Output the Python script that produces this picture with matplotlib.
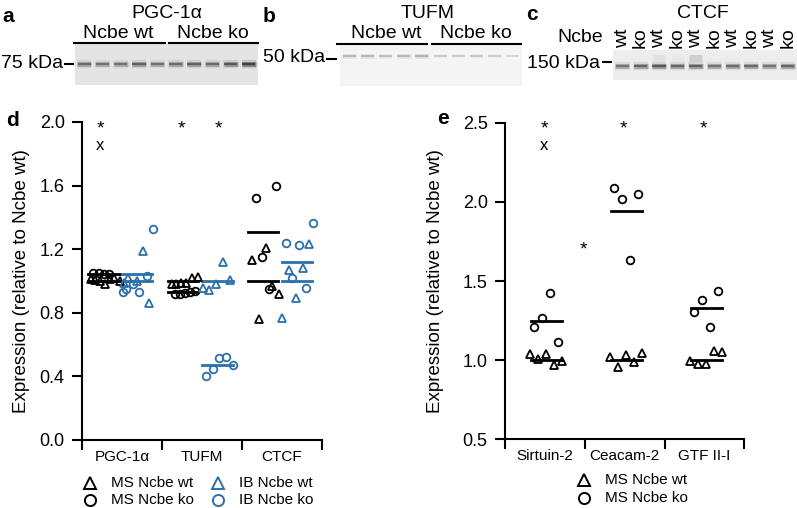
import numpy as np
import matplotlib
matplotlib.use('Agg')
import matplotlib.pyplot as plt
from matplotlib.lines import Line2D

plt.rcParams['font.family'] = ['Liberation Sans', 'DejaVu Sans']

# ---------------- datos ----------------
# blots (niveles de gris de la banda por carril, 1 = sin banda)
blot_a = [0.42, 0.45, 0.45, 0.38, 0.45, 0.42, 0.38, 0.42, 0.35, 0.25]
blot_b = [0.72, 0.72, 0.75, 0.72, 0.70, 0.80, 0.80, 0.78, 0.80, 0.84]
blot_c = [0.45, 0.40, 0.35, 0.40, 0.38, 0.45, 0.42, 0.42, 0.45, 0.40]
blot_c_sup = [1, 1, 0.85, 0.90, 0.72, 1, 1, 1, 1, 1]
carriles_c = ['wt', 'ko', 'wt', 'ko', 'wt', 'ko', 'wt', 'ko', 'wt', 'ko']

# panel d
cats_d = ['PGC-1α', 'TUFM', 'CTCF']
ms_wt_x = [0.11, 0.16, 0.22, 0.29, 0.35, 0.40, 0.47,
           1.12, 1.175, 1.235, 1.30, 1.37, 1.445,
           2.12, 2.30, 2.38, 2.46, 2.21]
ms_wt_y = [1.014, 1.007, 0.997, 0.983, 1.011, 1.017, 0.997,
           0.983, 0.983, 0.986, 0.986, 1.017, 1.028,
           1.134, 1.206, 0.968, 0.917, 0.763]
ms_ko_x = [0.14, 0.21, 0.275, 0.34,
           1.16, 1.225, 1.29, 1.35, 1.41,
           2.17, 2.42, 2.25, 2.34]
ms_ko_y = [1.048, 1.048, 1.042, 1.042,
           0.920, 0.920, 0.924, 0.930, 0.939,
           1.523, 1.599, 1.153, 0.951]
ib_wt_x = [0.525, 0.58, 0.685, 0.765, 0.84,
           1.51, 1.59, 1.675, 1.76, 1.85,
           2.84, 2.59, 2.76, 2.67, 2.50]
ib_wt_y = [0.990, 1.022, 1.003, 1.190, 0.862,
           0.955, 0.945, 0.980, 1.117, 1.007,
           1.235, 1.067, 1.082, 0.894, 0.767]
ib_ko_x = [0.89, 0.81, 0.635, 0.55, 0.51, 0.715,
           1.55, 1.635, 1.715, 1.80, 1.885,
           2.885, 2.545, 2.71, 2.63, 2.80]
ib_ko_y = [1.328, 1.034, 0.978, 0.947, 0.930, 0.930,
           0.400, 0.444, 0.514, 0.519, 0.469,
           1.362, 1.242, 1.229, 1.020, 0.955]
# medias (valor, inicio, fin)
medias_ms_d = [(1.00, 0.075, 0.475), (1.042, 0.075, 0.475),
               (0.997, 1.075, 1.45), (0.93, 1.075, 1.45),
               (1.00, 2.08, 2.455), (1.31, 2.08, 2.455)]
medias_ib_d = [(1.00, 0.50, 0.87), (1.042, 0.50, 0.87),
               (1.00, 1.495, 1.885), (0.47, 1.495, 1.885),
               (1.00, 2.495, 2.88), (1.12, 2.495, 2.88)]
signos_d = [(0.225, 2.0, '*'), (0.225, 1.87, 'x'), (1.24, 2.0, '*'), (1.70, 2.0, '*')]

# panel e
cats_e = ['Sirtuin-2', 'Ceacam-2', 'GTF II-I']
e_wt_x = [0.317, 0.417, 0.518, 0.618, 0.718,
          1.32, 1.42, 1.52, 1.62, 1.72,
          2.318, 2.422, 2.523, 2.623, 2.723]
e_wt_y = [1.041, 1.005, 1.041, 0.969, 0.993,
          1.020, 0.955, 1.034, 0.986, 1.047,
          0.995, 0.976, 0.976, 1.058, 1.050]
e_ko_x = [0.568, 0.468, 0.368, 0.668,
          1.366, 1.47, 1.67, 1.57,
          2.673, 2.473, 2.368, 2.573]
e_ko_y = [1.424, 1.264, 1.209, 1.117,
          2.089, 2.016, 2.050, 1.631,
          1.439, 1.382, 1.306, 1.211]
medias_e = [(1.00, 0.326, 0.711), (1.25, 0.326, 0.711),
            (1.00, 1.328, 1.713), (1.94, 1.328, 1.713),
            (1.00, 2.327, 2.716), (1.33, 2.327, 2.716)]
signos_e = [(0.49, 2.5, '*'), (0.49, 2.37, 'x'), (0.98, 1.74, '*'), (1.49, 2.5, '*'), (2.49, 2.5, '*')]

azul = '#2c70a9'
W, H = 797, 508


def caja(x0, y0, x1, y1):
    return [x0 / W, 1 - y1 / H, (x1 - x0) / W, (y1 - y0) / H]


def fx(x):
    return x / W


def fy(y):
    return 1 - y / H


fig = plt.figure(figsize=(W / 100, H / 100), dpi=100)

# ---------------- blots ----------------
def dibuja_blot(rect, niveles, fondo, yb, alto, sup=None, ysup=None):
    ax = fig.add_axes(rect)
    ax.set_facecolor(fondo)
    ax.set_xlim(0, len(niveles))
    ax.set_ylim(alto, 0)
    for i, g in enumerate(niveles):
        ax.plot([i + 0.1, i + 0.9], [yb, yb], color=str(min(1, g + 0.3)), lw=6, solid_capstyle='butt', alpha=0.35)
        ax.plot([i + 0.12, i + 0.88], [yb, yb], color=str(min(1, g + 0.15)), lw=3.5, solid_capstyle='butt', alpha=0.7)
        ax.plot([i + 0.14, i + 0.86], [yb, yb], color=str(g), lw=1.6, solid_capstyle='butt')
        if sup is not None and sup[i] < 1:
            ax.plot([i + 0.15, i + 0.85], [ysup, ysup], color=str(sup[i]), lw=5, solid_capstyle='butt', alpha=0.55)
    ax.set_xticks([]); ax.set_yticks([])
    for s in ax.spines.values():
        s.set_visible(False)
    return ax


ax_a = dibuja_blot(caja(75, 44, 258, 85), blot_a, '#e4e4e4', 20, 41)
ax_b = dibuja_blot(caja(340, 45, 522, 86), blot_b, '#f4f4f4', 11, 41)
ax_c = dibuja_blot(caja(613, 50, 797, 80), blot_c, '#ededed', 16, 30, blot_c_sup, 8)

ft = 14
fig.text(fx(2), fy(16), 'a', fontsize=15, fontweight='bold', va='center')
fig.text(fx(167), fy(13), 'PGC-1α', fontsize=ft, ha='center', va='center')
fig.text(fx(118), fy(33), 'Ncbe wt', fontsize=ft, ha='center', va='center')
fig.text(fx(213), fy(33), 'Ncbe ko', fontsize=ft, ha='center', va='center')
fig.add_artist(Line2D([fx(74), fx(165)], [fy(43), fy(43)], color='k', lw=1.5))
fig.add_artist(Line2D([fx(169), fx(258)], [fy(43), fy(43)], color='k', lw=1.5))
fig.text(fx(63), fy(64), '75 kDa', fontsize=ft, ha='right', va='center')
fig.add_artist(Line2D([fx(65), fx(73)], [fy(64), fy(64)], color='k', lw=1.5))

fig.text(fx(263), fy(16), 'b', fontsize=15, fontweight='bold', va='center')
fig.text(fx(428), fy(13), 'TUFM', fontsize=ft, ha='center', va='center')
fig.text(fx(386), fy(34), 'Ncbe wt', fontsize=ft, ha='center', va='center')
fig.text(fx(476), fy(34), 'Ncbe ko', fontsize=ft, ha='center', va='center')
fig.add_artist(Line2D([fx(337), fx(427)], [fy(44), fy(44)], color='k', lw=1.5))
fig.add_artist(Line2D([fx(432), fx(521)], [fy(44), fy(44)], color='k', lw=1.5))
fig.text(fx(325), fy(58), '50 kDa', fontsize=ft, ha='right', va='center')
fig.add_artist(Line2D([fx(327), fx(336)], [fy(59), fy(59)], color='k', lw=1.5))

fig.text(fx(526), fy(15), 'c', fontsize=15, fontweight='bold', va='center')
fig.text(fx(703), fy(13), 'CTCF', fontsize=ft, ha='center', va='center')
fig.text(fx(603), fy(38), 'Ncbe', fontsize=ft, ha='right', va='center')
for i, t in enumerate(carriles_c):
    ax_c.text(i + 0.5, -2, t, fontsize=ft, rotation=90, ha='center', va='bottom', clip_on=False)
fig.text(fx(600), fy(63), '150 kDa', fontsize=ft, ha='right', va='center')
fig.add_artist(Line2D([fx(603), fx(611)], [fy(62), fy(62)], color='k', lw=1.5))


# ---------------- gráficos de puntos ----------------
def ejes(rect, ymin, ymax, paso, cats):
    ax = fig.add_axes(rect)
    ax.set_xlim(0, 3)
    ax.set_ylim(ymin, ymax)
    ax.set_yticks(np.arange(ymin, ymax + 0.01, paso))
    ax.set_yticklabels(['%.1f' % v for v in np.arange(ymin, ymax + 0.01, paso)])
    ax.set_xticks([0, 1, 2, 3])
    ax.set_xticklabels([])
    ax.set_xticks([0.5, 1.5, 2.5], minor=True)
    ax.set_xticklabels(cats, minor=True, fontsize=11)
    ax.tick_params(axis='x', which='major', length=7.5, width=1.5, direction='out')
    ax.tick_params(axis='x', which='minor', length=0, pad=7)
    ax.tick_params(axis='y', length=7.5, width=1.5, labelsize=13, pad=5)
    for s in ['top', 'right']:
        ax.spines[s].set_visible(False)
    for s in ['left', 'bottom']:
        ax.spines[s].set_linewidth(1.5)
    return ax


def signos(ax, lista):
    for x, y, s in lista:
        if s == '*':
            ax.annotate(s, (x, y), xytext=(0, -8), textcoords='offset points', fontsize=14,
                        ha='center', va='baseline', annotation_clip=False)
        else:
            ax.annotate(s, (x, y), xytext=(0, -5), textcoords='offset points', fontsize=12,
                        ha='center', va='baseline', annotation_clip=False)


mk = dict(ls='none', markerfacecolor='none', markersize=5.5, markeredgewidth=1.3, clip_on=False)

ax_d = ejes(caja(82, 122, 322, 440), 0.0, 2.0, 0.4, cats_d)
for v, a, b in medias_ms_d:
    ax_d.plot([a, b], [v, v], color='k', lw=2)
for v, a, b in medias_ib_d:
    ax_d.plot([a, b], [v, v], color=azul, lw=2)
ax_d.plot(ms_wt_x, ms_wt_y, marker='^', color='k', **mk)
ax_d.plot(ms_ko_x, ms_ko_y, marker='o', color='k', **mk)
ax_d.plot(ib_wt_x, ib_wt_y, marker='^', color=azul, **mk)
ax_d.plot(ib_ko_x, ib_ko_y, marker='o', color=azul, **mk)
signos(ax_d, signos_d)

ax_e = ejes(caja(505, 122.7, 744.3, 439.3), 0.5, 2.5, 0.5, cats_e)
for v, a, b in medias_e:
    ax_e.plot([a, b], [v, v], color='k', lw=2)
ax_e.plot(e_wt_x, e_wt_y, marker='^', color='k', **mk)
ax_e.plot(e_ko_x, e_ko_y, marker='o', color='k', **mk)
signos(ax_e, signos_e)

fig.text(fx(22), fy(281), 'Expression (relative to Ncbe wt)', fontsize=13.5, rotation=90, ha='center', va='center')
fig.text(fx(436), fy(281), 'Expression (relative to Ncbe wt)', fontsize=13.5, rotation=90, ha='center', va='center')
fig.text(fx(6), fy(120), 'd', fontsize=15, fontweight='bold', va='center')
fig.text(fx(437), fy(118), 'e', fontsize=15, fontweight='bold', va='center')

# leyendas
def item(x, y, m, c, txt):
    fig.add_artist(Line2D([fx(x)], [fy(y)], marker=m, color=c, markerfacecolor='none',
                          markersize=8, markeredgewidth=1.4, ls='none'))
    fig.text(fx(x + 21), fy(y), txt, fontsize=11, va='center')

item(90, 483, '^', 'k', 'MS Ncbe wt')
item(90, 500, 'o', 'k', 'MS Ncbe ko')
item(218, 483, '^', azul, 'IB Ncbe wt')
item(218, 500, 'o', azul, 'IB Ncbe ko')
item(584, 480, '^', 'k', 'MS Ncbe wt')
item(584, 498, 'o', 'k', 'MS Ncbe ko')

plt.savefig('out.png', dpi=100)
